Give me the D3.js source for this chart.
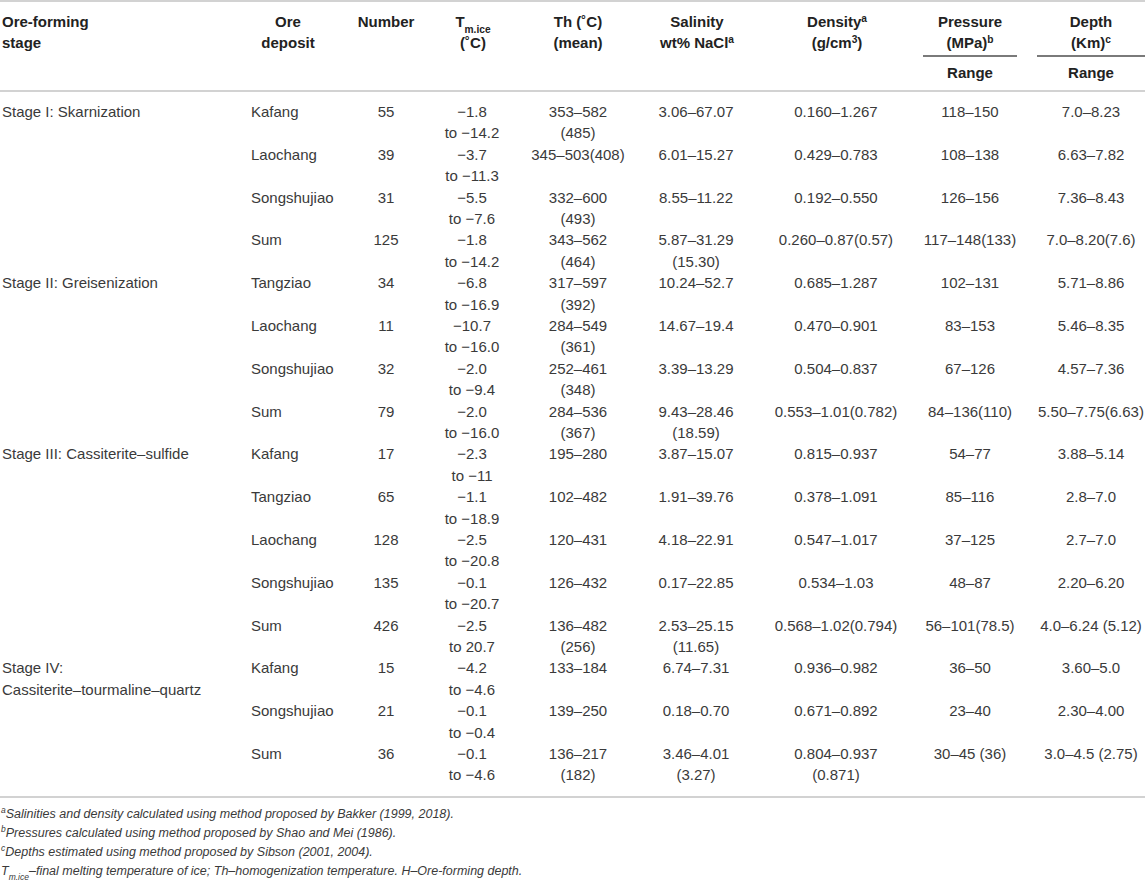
<!DOCTYPE html>
<html>
<head>
<meta charset="utf-8">
<script src="https://cdn.jsdelivr.net/npm/d3@7"></script>
<style>
  body { margin: 0; background: #fff; }
  text { font-family: "Liberation Sans", Arial, Helvetica, sans-serif; }
</style>
</head>
<body>
<script>
// ---- table data ----
const stages = ["Stage I: Skarnization", "Stage II: Greisenization",
  "Stage III: Cassiterite–sulfide", "Stage IV:|Cassiterite–tourmaline–quartz"];
const stageFirstRow = [0, 4, 8, 13];

const deposits = ["Kafang", "Laochang", "Songshujiao", "Sum",
  "Tangziao", "Laochang", "Songshujiao", "Sum",
  "Kafang", "Tangziao", "Laochang", "Songshujiao", "Sum",
  "Kafang", "Songshujiao", "Sum"];

const numbers = ["55", "39", "31", "125", "34", "11", "32", "79",
  "17", "65", "128", "135", "426", "15", "21", "36"];

const tmIce = ["−1.8|to −14.2", "−3.7|to −11.3", "−5.5|to −7.6", "−1.8|to −14.2",
  "−6.8|to −16.9", "−10.7|to −16.0", "−2.0|to −9.4", "−2.0|to −16.0",
  "−2.3|to −11", "−1.1|to −18.9", "−2.5|to −20.8", "−0.1|to −20.7", "−2.5|to 20.7",
  "−4.2|to −4.6", "−0.1|to −0.4", "−0.1|to −4.6"];

const th = ["353–582|(485)", "345–503(408)", "332–600|(493)", "343–562|(464)",
  "317–597|(392)", "284–549|(361)", "252–461|(348)", "284–536|(367)",
  "195–280", "102–482", "120–431", "126–432", "136–482|(256)",
  "133–184", "139–250", "136–217|(182)"];

const salinity = ["3.06–67.07", "6.01–15.27", "8.55–11.22", "5.87–31.29|(15.30)",
  "10.24–52.7", "14.67–19.4", "3.39–13.29", "9.43–28.46|(18.59)",
  "3.87–15.07", "1.91–39.76", "4.18–22.91", "0.17–22.85", "2.53–25.15|(11.65)",
  "6.74–7.31", "0.18–0.70", "3.46–4.01|(3.27)"];

const density = ["0.160–1.267", "0.429–0.783", "0.192–0.550", "0.260–0.87(0.57)",
  "0.685–1.287", "0.470–0.901", "0.504–0.837", "0.553–1.01(0.782)",
  "0.815–0.937", "0.378–1.091", "0.547–1.017", "0.534–1.03", "0.568–1.02(0.794)",
  "0.936–0.982", "0.671–0.892", "0.804–0.937|(0.871)"];

const pressure = ["118–150", "108–138", "126–156", "117–148(133)",
  "102–131", "83–153", "67–126", "84–136(110)",
  "54–77", "85–116", "37–125", "48–87", "56–101(78.5)",
  "36–50", "23–40", "30–45 (36)"];

const depth = ["7.0–8.23", "6.63–7.82", "7.36–8.43", "7.0–8.20(7.6)",
  "5.71–8.86", "5.46–8.35", "4.57–7.36", "5.50–7.75(6.63)",
  "3.88–5.14", "2.8–7.0", "2.7–7.0", "2.20–6.20", "4.0–6.24 (5.12)",
  "3.60–5.0", "2.30–4.00", "3.0–4.5 (2.75)"];

const footnotes = [
  [{t: "a", sup: true}, {t: "Salinities and density calculated using method proposed by Bakker (1999, 2018)."}],
  [{t: "b", sup: true}, {t: "Pressures calculated using method proposed by Shao and Mei (1986)."}],
  [{t: "c", sup: true}, {t: "Depths estimated using method proposed by Sibson (2001, 2004)."}],
  [{t: "T"}, {t: "m.ice", sub: true}, {t: "–final melting temperature of ice; Th–homogenization temperature. H–Ore-forming depth."}]
];

// ---- layout ----
const W = 1145, H = 882;
const lineH = 21.4;
const textCol = "#3a3a3a";

const svg = d3.select("body").append("svg")
  .attr("width", W).attr("height", H);

// data columns: x position + anchor
const columns = [
  {vals: deposits, x: 251, anchor: "start"},
  {vals: numbers, x: 386, anchor: "middle"},
  {vals: tmIce, x: 472, anchor: "middle"},
  {vals: th, x: 578, anchor: "middle"},
  {vals: salinity, x: 696, anchor: "middle"},
  {vals: density, x: 836, anchor: "middle"},
  {vals: pressure, x: 970, anchor: "middle"},
  {vals: depth, x: 1091, anchor: "middle"}
];

const y = d3.scaleLinear().domain([0, deposits.length - 1]).range([117, 759]);

function rich(sel, segs) {
  segs.forEach(s => {
    const t = sel.append("tspan").text(s.t);
    if (s.sup) t.attr("baseline-shift", "super").attr("font-size", "68%");
    if (s.sub) t.attr("baseline-shift", "sub").attr("font-size", "68%");
  });
}

// rules
const rules = svg.append("g");
[[0, W, 1, "#d2d2d2"], [0, W, 91, "#d2d2d2"], [0, W, 797, "#d2d2d2"],
 [923, 1017, 56, "#7a7a7a"], [1037, W, 56, "#7a7a7a"]].forEach(r => {
  rules.append("line")
    .attr("x1", r[0]).attr("x2", r[1])
    .attr("y1", r[2]).attr("y2", r[2])
    .attr("stroke", r[3]).attr("stroke-width", 2);
});

// header
const header = [
  {x: 2, anchor: "start", lines: [[{t: "Ore-forming"}], [{t: "stage"}]]},
  {x: 288, anchor: "middle", lines: [[{t: "Ore"}], [{t: "deposit"}]]},
  {x: 386, anchor: "middle", lines: [[{t: "Number"}]]},
  {x: 473, anchor: "middle", lines: [[{t: "T"}, {t: "m.ice", sub: true}], [{t: "(˚C)"}]]},
  {x: 578, anchor: "middle", lines: [[{t: "Th (˚C)"}], [{t: "(mean)"}]]},
  {x: 697, anchor: "middle", lines: [[{t: "Salinity"}], [{t: "wt% NaCl"}, {t: "a", sup: true}]]},
  {x: 837, anchor: "middle", lines: [[{t: "Density"}, {t: "a", sup: true}], [{t: "(g/cm"}, {t: "3", sup: true}, {t: ")"}]]},
  {x: 970, anchor: "middle", lines: [[{t: "Pressure"}], [{t: "(MPa)"}, {t: "b", sup: true}], null, [{t: "Range"}]]},
  {x: 1091, anchor: "middle", lines: [[{t: "Depth"}], [{t: "(Km)"}, {t: "c", sup: true}], null, [{t: "Range"}]]}
];
const headY = [27, 47.5, 0, 78];
const gh = svg.append("g")
  .attr("font-size", 15).attr("font-weight", "bold").attr("fill", "#222");
header.forEach(h => {
  h.lines.forEach((segs, i) => {
    if (!segs) return;
    const t = gh.append("text")
      .attr("x", h.x).attr("y", headY[i])
      .attr("text-anchor", h.anchor);
    rich(t, segs);
  });
});

// body
const gb = svg.append("g").attr("font-size", 15).attr("fill", textCol);

stages.forEach((s, i) => {
  s.split("|").forEach((ln, j) => {
    gb.append("text")
      .attr("x", 2).attr("y", y(stageFirstRow[i]) + j * lineH)
      .text(ln);
  });
});

columns.forEach(c => {
  gb.append("g").selectAll("g")
    .data(c.vals)
    .join("g")
    .each(function(v, i) {
      d3.select(this).selectAll("text")
        .data(v.split("|"))
        .join("text")
        .attr("x", c.x)
        .attr("y", (d, j) => y(i) + j * lineH)
        .attr("text-anchor", c.anchor)
        .text(d => d);
    });
});

// footnotes
const gf = svg.append("g")
  .attr("font-size", 12.5).attr("font-style", "italic").attr("fill", textCol);
footnotes.forEach((segs, i) => {
  const t = gf.append("text").attr("x", 1).attr("y", 818 + i * 19);
  rich(t, segs);
});
</script>
</body>
</html>
